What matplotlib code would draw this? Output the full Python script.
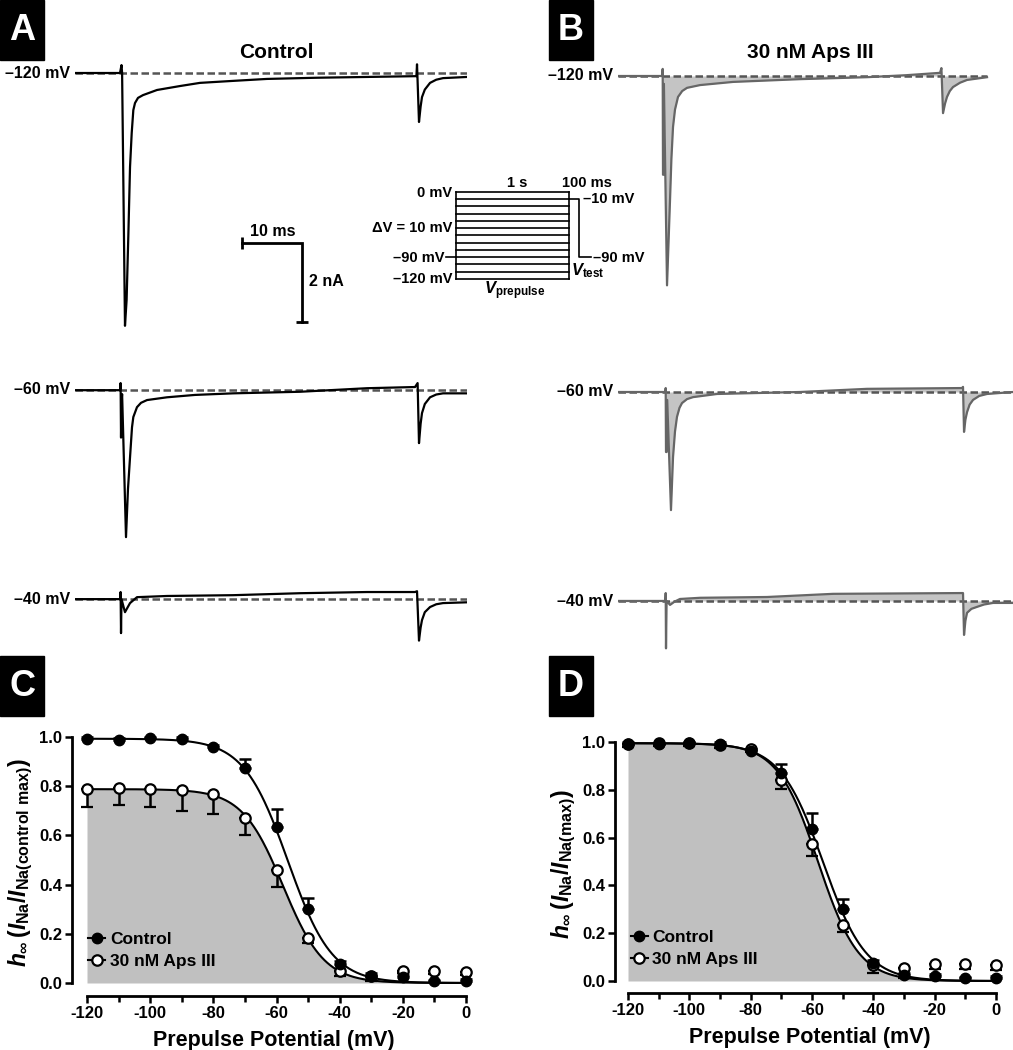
import numpy as np
import matplotlib
matplotlib.use('Agg')
import matplotlib.pyplot as plt
from matplotlib.lines import Line2D
from matplotlib.patches import Rectangle

plt.rcParams['font.family'] = ['Liberation Sans', 'DejaVu Sans']
plt.rcParams['font.weight'] = 'bold'
plt.rcParams['axes.labelweight'] = 'bold'
plt.rcParams['axes.unicode_minus'] = False
plt.rcParams['mathtext.fontset'] = 'custom'
plt.rcParams['mathtext.rm'] = 'Liberation Sans:bold'
plt.rcParams['mathtext.it'] = 'Liberation Sans:italic:bold'
plt.rcParams['mathtext.bf'] = 'Liberation Sans:bold'

W, H = 1013, 1050

# ---- current traces (ms, nA) ----
a120_t = [0, 7.5, 7.75, 7.85, 8.33, 8.6, 8.9, 9.17, 9.45, 9.72, 10.0, 10.5, 11.33, 13.67, 17.5, 20.83, 26.3,
          32.0, 40.3, 48.67, 56.9, 57.0, 57.33, 57.6, 57.83, 58.3, 59.17, 60.2, 61.33, 65.33]
a120_i = [0, 0, 0.2, 0, -6.4, -5.75, -4.05, -2.38, -1.52, -0.94, -0.76, -0.63, -0.56, -0.43, -0.33, -0.25, -0.2,
          -0.15, -0.12, -0.10, -0.08, 0.22, -1.24, -0.85, -0.61, -0.42, -0.25, -0.17, -0.13, -0.10]
a60_t = [0, 7.5, 7.6, 7.67, 7.75, 7.85, 8.5, 8.83, 9.17, 9.5, 9.72, 10.33, 11.0, 12.0, 15.33, 20.0, 26.33, 37.5,
         48.67, 56.67, 57.1, 57.33, 57.6, 57.83, 58.3, 59.17, 60.2, 61.33, 65.33]
a60_i = [0, 0, 0.18, -1.2, -0.3, -0.1, -3.72, -2.5, -1.7, -0.94, -0.68, -0.43, -0.32, -0.25, -0.18, -0.12, -0.08, -0.04,
         0.05, 0.08, 0.18, -1.34, -0.85, -0.58, -0.35, -0.18, -0.11, -0.08, -0.08]
a40_t = [0, 7.5, 7.6, 7.67, 7.75, 8.33, 8.8, 9.17, 10.33, 15.33, 26.33, 37.5, 48.67, 56.67, 57.0, 57.33, 57.6,
         57.83, 58.3, 59.17, 60.2, 61.33, 65.33]
a40_i = [0, 0, 0.18, -0.86, 0.0, -0.33, -0.2, -0.10, 0.05, 0.08, 0.10, 0.15, 0.18, 0.18, 0.2, -1.05, -0.72,
         -0.53, -0.33, -0.20, -0.13, -0.10, -0.08]

b120_t = [0, 7.35, 7.45, 7.5, 7.6, 7.65, 8.17, 8.67, 8.9, 9.17, 9.5, 10.0, 10.7, 11.5, 13.67, 19.17, 30.33,
          41.5, 48.0, 53.67, 53.9, 54.17, 54.5, 54.83, 55.3, 55.83, 57.0, 58.17, 61.5]
b120_i = [0, 0, 0.18, -2.5, -2.5, -0.2, -5.3, -3.14, -2.1, -1.29, -0.85, -0.53, -0.38, -0.30, -0.23, -0.15, -0.08,
          -0.03, 0.02, 0.08, 0.20, -0.94, -0.7, -0.53, -0.38, -0.28, -0.17, -0.10, -0.03]
b60_t = [0, 7.9, 7.95, 8.0, 8.1, 8.2, 8.83, 9.17, 9.5, 9.83, 10.25, 10.67, 11.5, 12.5, 16.5, 30.33, 41.5, 57.33,
         57.5, 57.67, 57.9, 58.17, 58.6, 59.17, 60.2, 61.5, 65.83]
b60_i = [0, 0, 0.10, -1.52, -1.52, -0.2, -2.99, -1.65, -1.0, -0.63, -0.4, -0.28, -0.18, -0.13, -0.05, 0.0, 0.08, 0.10,
         0.13, -1.01, -0.7, -0.51, -0.32, -0.20, -0.1, -0.05, 0.0]
b40_t = [0, 7.9, 7.95, 8.0, 8.1, 8.67, 9.4, 10.33, 13.67, 24.83, 35.83, 57.33, 57.5, 57.67, 57.9, 58.17, 58.9,
         59.83, 61.0, 62.5, 65.83]
b40_i = [0, 0, 0.2, -1.2, 0.0, -0.10, -0.02, 0.05, 0.08, 0.10, 0.18, 0.20, 0.20, -0.86, -0.5, -0.30, -0.2,
         -0.15, -0.09, -0.05, -0.05]

trace_labels = ['–120 mV', '–60 mV', '–40 mV']
base_end_A = [65.33, 65.33, 65.33]
base_end_B = [61.5, 65.83, 65.83]

# ---- protocol inset ----
proto_levels = [0, -10, -20, -30, -40, -50, -60, -70, -80, -90, -100, -110, -120]
proto_test_x = [1.0, 1.09, 1.09, 1.19]
proto_test_y = [-10, -10, -90, -90]
proto_hold_x = [-0.09, 0]
proto_hold_y = [-90, -90]

# ---- steady-state inactivation ----
V = [-120, -110, -100, -90, -80, -70, -60, -50, -40, -30, -20, -10, 0]
ctrl_C = [0.993, 0.989, 0.996, 0.993, 0.959, 0.872, 0.635, 0.301, 0.078, 0.030, 0.024, 0.007, 0.010]
ctrl_C_err = [0.005, 0.005, 0.004, 0.005, 0.010, 0.037, 0.072, 0.044, 0.012, 0.010, 0.008, 0.005, 0.005]
aps_C = [0.788, 0.793, 0.789, 0.784, 0.768, 0.669, 0.459, 0.182, 0.050, 0.030, 0.050, 0.047, 0.043]
aps_C_err = [0.074, 0.070, 0.073, 0.084, 0.079, 0.068, 0.067, 0.020, 0.020, 0.023, 0.010, 0.010, 0.010]

ctrl_D = [0.993, 0.990, 0.997, 0.993, 0.961, 0.870, 0.634, 0.300, 0.077, 0.025, 0.020, 0.011, 0.014]
ctrl_D_err = [0.005, 0.005, 0.004, 0.005, 0.010, 0.039, 0.071, 0.045, 0.010, 0.010, 0.008, 0.005, 0.005]
aps_D = [0.990, 0.995, 0.995, 0.986, 0.970, 0.843, 0.575, 0.234, 0.065, 0.056, 0.071, 0.070, 0.065]
aps_D_err = [0.010, 0.010, 0.010, 0.010, 0.010, 0.038, 0.051, 0.028, 0.033, 0.045, 0.020, 0.020, 0.020]

# Boltzmann fit parameters (top, V1/2, k)
fit_ctrl_C = (0.993, -56.4, 7.0)
fit_aps_C = (0.788, -57.9, 6.5)
fit_ctrl_D = (0.995, -56.4, 7.0)
fit_aps_D = (0.995, -58.0, 6.6)


def boltz(v, p):
    top, vh, k = p
    return top / (1 + np.exp((v - vh) / k))


fig = plt.figure(figsize=(W / 100, H / 100), dpi=100)


def px_axes(left, top, right, bottom):
    return fig.add_axes([left / W, 1 - bottom / H, (right - left) / W, (bottom - top) / H])


def ftext(x, y, s, **kw):
    fig.text(x / W, 1 - y / H, s, **kw)


def panel_letter(x, y, s):
    fig.patches.append(Rectangle((x / W, 1 - (y + 60) / H), 44 / W, 60 / H,
                                 transform=fig.transFigure, color='black'))
    ftext(x + 22, y + 31, s, color='white', fontsize=26, ha='center', va='center')


def trace_panel(ax, traces, offsets, base_ends, color, fill):
    for (t, i), off, be in zip(traces, offsets, base_ends):
        t = np.array(t)
        i = np.array(i) + off
        ax.plot([0, be], [off, off], ls=(0, (3, 1.4)), color='#555555', lw=1.8, zorder=1)
        if fill:
            ax.fill_between(t, i, off, color='#c4c4c4', lw=0, zorder=0)
        ax.plot(t, i, color=color, lw=1.6, zorder=2)
    ax.axis('off')


# Panel A
axA = px_axes(75, 55, 467, 660)
axA.set_xlim(0, 65.33)
axA.set_ylim(-(660 - 73) / 39.5, (73 - 55) / 39.5)
offs_A = [0, -8.03, -13.32]
trace_panel(axA, [(a120_t, a120_i), (a60_t, a60_i), (a40_t, a40_i)], offs_A, base_end_A, 'black', False)
# scale bar 10 ms / 2 nA
axA.plot([27.83, 37.83, 37.83], [-4.30, -4.30, -6.30], color='black', lw=2, solid_joinstyle='miter')
axA.plot([27.83], [-4.30], marker='|', ms=8, mew=2, color='black')
axA.plot([37.83], [-6.30], marker='_', ms=8, mew=2, color='black')
ftext(273, 231, '10 ms', fontsize=11.5, ha='center', va='center')
ftext(309, 281, '2 nA', fontsize=11.5, ha='left', va='center')

# Panel B
axB = px_axes(618, 55, 1013, 660)
axB.set_xlim(0, 65.83)
axB.set_ylim(-(660 - 76) / 39.5, (76 - 55) / 39.5)
offs_B = [0, -8.0, -13.29]
trace_panel(axB, [(b120_t, b120_i), (b60_t, b60_i), (b40_t, b40_i)], offs_B, base_end_B, '#666666', True)

for lab, y in zip(trace_labels, [73, 390, 599]):
    ftext(70, y, lab, fontsize=11.5, ha='right', va='center')
for lab, y in zip(trace_labels, [76, 392, 601]):
    ftext(613, y, lab, fontsize=11.5, ha='right', va='center')

ftext(276, 53, 'Control', fontsize=15, ha='center', va='center')
ftext(810, 53, '30 nM Aps III', fontsize=15, ha='center', va='center')

# protocol inset
axP = px_axes(440, 185, 600, 290)
axP.set_xlim(-0.1416, 1.274)
axP.set_ylim(-135.2, 9.66)
for lv in proto_levels:
    axP.plot([0, 1], [lv, lv], color='black', lw=1.2)
axP.plot([0, 0], [proto_levels[-1], proto_levels[0]], color='black', lw=1.2)
axP.plot([1, 1], [proto_levels[-1], proto_levels[0]], color='black', lw=1.2)
axP.plot(proto_test_x, proto_test_y, color='black', lw=1.2)
axP.plot(proto_hold_x, proto_hold_y, color='black', lw=1.2)
axP.axis('off')
fs_p = 10.5
ftext(452, 193, '0 mV', fontsize=fs_p, ha='right', va='center')
ftext(452, 228, 'ΔV = 10 mV', fontsize=fs_p, ha='right', va='center')
ftext(444, 258, '–90 mV', fontsize=fs_p, ha='right', va='center')
ftext(452, 279, '–120 mV', fontsize=fs_p, ha='right', va='center')
ftext(517, 183, '1 s', fontsize=fs_p, ha='center', va='center')
ftext(587, 183, '100 ms', fontsize=fs_p, ha='center', va='center')
ftext(583, 199, '–10 mV', fontsize=fs_p, ha='left', va='center')
ftext(593, 258, '–90 mV', fontsize=fs_p, ha='left', va='center')
ftext(571, 271, r'$V_{\rm test}$', fontsize=12, ha='left', va='center')
ftext(515, 291, r'$V_{\rm prepulse}$', fontsize=12, ha='center', va='center')


def inact_panel(ax, ctrl, ctrl_err, aps, aps_err, fc, fa, ylab):
    vv = np.linspace(-120, 0, 400)
    ax.fill_between(vv, 0, boltz(vv, fa), color='#c0c0c0', lw=0, zorder=0)
    ax.plot(vv, boltz(vv, fc), color='black', lw=1.5, zorder=2)
    ax.plot(vv, boltz(vv, fa), color='black', lw=1.5, zorder=2)
    zeros = [0] * len(V)
    ax.errorbar(V, aps, yerr=[aps_err, zeros], fmt='o', color='black', mfc='white', mec='black',
                ms=7.5, mew=1.6, elinewidth=1.8, capsize=4, capthick=1.8, zorder=4)
    ax.errorbar(V, ctrl, yerr=[zeros, ctrl_err], fmt='o', color='black', mfc='black',
                ms=7.5, elinewidth=1.8, capsize=4, capthick=1.8, zorder=5)
    for s in ['top', 'right']:
        ax.spines[s].set_visible(False)
    ax.spines['left'].set_bounds(0, 1)
    ax.spines['bottom'].set_bounds(-120, 0)
    for s in ['left', 'bottom']:
        ax.spines[s].set_linewidth(2)
    ax.set_yticks([0, 0.2, 0.4, 0.6, 0.8, 1.0])
    ax.set_yticklabels(['0.0', '0.2', '0.4', '0.6', '0.8', '1.0'])
    ax.set_xticks([-120, -100, -80, -60, -40, -20, 0])
    ax.set_xticks([-110, -90, -70, -50, -30, -10], minor=True)
    ax.tick_params(axis='both', which='major', length=5, width=1.8, labelsize=12, pad=2)
    ax.tick_params(axis='x', which='minor', length=4, width=1.8)
    ax.set_xlabel('Prepulse Potential (mV)', fontsize=15.5, labelpad=7)
    ax.set_ylabel(ylab, fontsize=16.5, labelpad=3)
    h1 = Line2D([], [], color='black', marker='o', mfc='black', ms=7.5, lw=1.5)
    h2 = Line2D([], [], color='black', marker='o', mfc='white', mew=1.6, ms=7.5, lw=1.5)
    ax.legend([h1, h2], ['Control', '30 nM Aps III'], loc='lower left', bbox_to_anchor=(0.04, 0.1),
              frameon=False, fontsize=12.5, handlelength=1.0, handletextpad=0.25,
              labelspacing=0.4, borderpad=0, borderaxespad=0)


axC = px_axes(72, 730, 475, 996)
axC.set_xlim(-124.75, 2.85)
axC.set_ylim(-13 / 246, 1 + 7 / 246)
inact_panel(axC, ctrl_C, ctrl_C_err, aps_C, aps_C_err, fit_ctrl_C, fit_aps_C,
            r'$h_{\infty}\,(I_{\rm Na}/I_{\rm Na(control\ max)})$')

axD = px_axes(615, 735, 1005, 993)
axD.set_xlim(-124.24, 2.93)
axD.set_ylim(-12 / 239, 1 + 7 / 239)
inact_panel(axD, ctrl_D, ctrl_D_err, aps_D, aps_D_err, fit_ctrl_D, fit_aps_D,
            r'$h_{\infty}\,(I_{\rm Na}/I_{\rm Na(max)})$')

panel_letter(0, 0, 'A')
panel_letter(549, 0, 'B')
panel_letter(0, 656, 'C')
panel_letter(549, 656, 'D')

fig.savefig('out.png', dpi=100)
